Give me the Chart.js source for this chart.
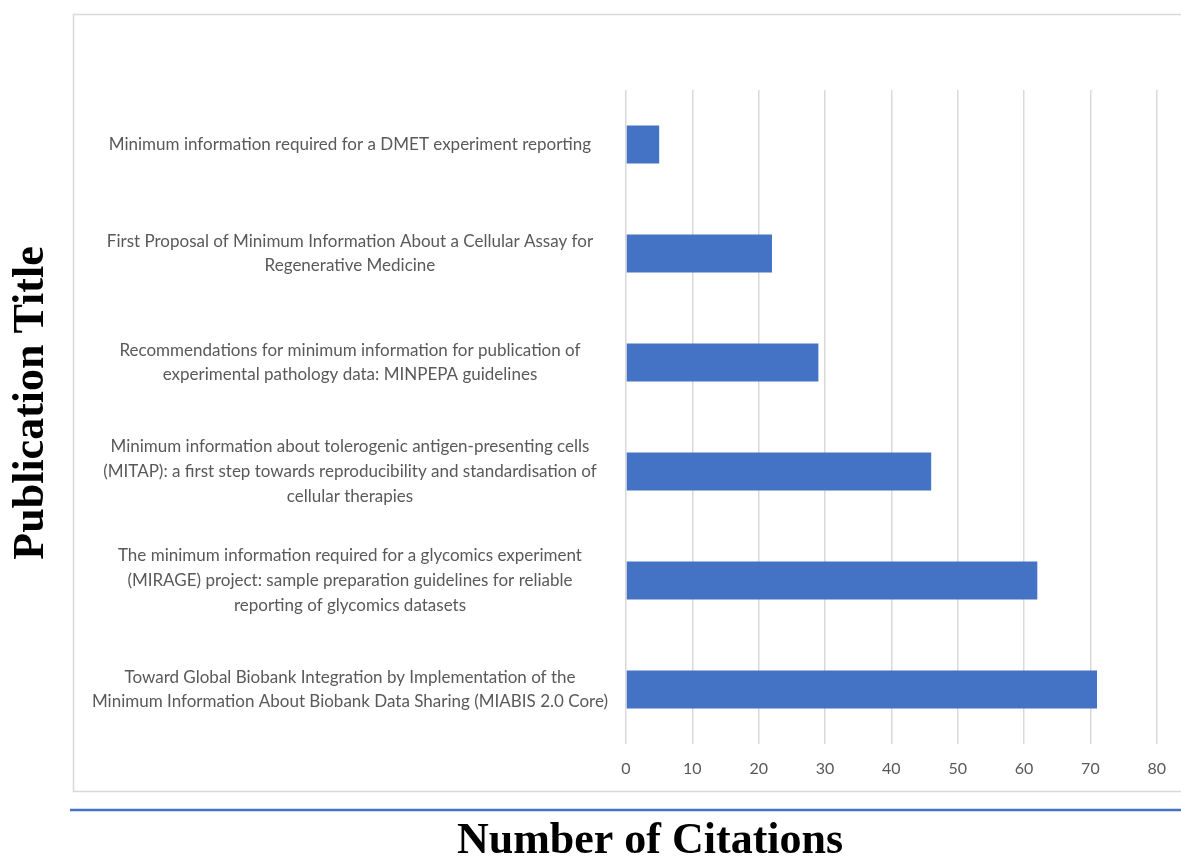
<!DOCTYPE html>
<html>
<head>
<meta charset="utf-8">
<script src="https://cdn.jsdelivr.net/npm/chart.js@4/dist/chart.umd.min.js"></script>
<style>
  html, body { margin: 0; padding: 0; background: #ffffff; overflow: hidden; }
  #wrap { position: relative; width: 1181px; height: 857px; }
</style>
</head>
<body>
<div id="wrap"><canvas id="c" width="1181" height="857"></canvas></div>
<script>
// Publications (one entry per bar, split into the lines shown on the axis)
const publicationTitles = [
  ["Minimum information required for a DMET experiment reporting"],
  ["First Proposal of Minimum Information About a Cellular Assay for", "Regenerative Medicine"],
  ["Recommendations for minimum information for publication of", "experimental pathology data: MINPEPA guidelines"],
  ["Minimum information about tolerogenic antigen-presenting cells", "(MITAP): a first step towards reproducibility and standardisation of", "cellular therapies"],
  ["The minimum information required for a glycomics experiment", "(MIRAGE) project: sample preparation guidelines for reliable", "reporting of glycomics datasets"],
  ["Toward Global Biobank Integration by Implementation of the", "Minimum Information About Biobank Data Sharing (MIABIS 2.0 Core)"]
];
// Citation count for each publication
const citationCounts = [5, 22, 29, 46, 62, 71];
// Value-axis range and tick step
const citationAxisMin = 0;
const citationAxisMax = 80;
const citationTickStep = 10;

const xAxisTitle = "Number of Citations";
const yAxisTitle = "Publication Title";

const LABEL_GREY = "#595959";
const GRID_GREY = "#d9d9d9";
const BAR_BLUE = "#4472c4";

// Frame around the plot, blue rule and the two serif headings
const decorations = {
  id: "decorations",
  beforeDraw(chart) {
    const ctx = chart.ctx;
    ctx.save();
    ctx.fillStyle = "#ffffff";
    ctx.fillRect(0, 0, chart.width, chart.height);
    ctx.strokeStyle = GRID_GREY;
    ctx.lineWidth = 1.5;
    ctx.strokeRect(73.5, 14.5, chart.width + 20, 777);
    ctx.strokeStyle = BAR_BLUE;
    ctx.lineWidth = 2.5;
    ctx.beginPath();
    ctx.moveTo(70, 810);
    ctx.lineTo(chart.width, 810);
    ctx.stroke();
    ctx.restore();
  },
  afterDraw(chart) {
    const ctx = chart.ctx;
    ctx.save();
    ctx.fillStyle = "#000000";
    ctx.font = "bold 44px 'Liberation Serif', 'Times New Roman', serif";
    ctx.textAlign = "center";
    ctx.textBaseline = "alphabetic";
    // bottom heading
    ctx.fillText(xAxisTitle, 650, 853);
    // side heading, reading bottom to top
    ctx.translate(43, 403);
    ctx.rotate(-Math.PI / 2);
    ctx.fillText(yAxisTitle, 0, 0);
    ctx.restore();
  }
};

new Chart(document.getElementById("c"), {
  type: "bar",
  data: {
    labels: publicationTitles,
    datasets: [{
      data: citationCounts,
      backgroundColor: BAR_BLUE,
      borderWidth: 0,
      categoryPercentage: 1.0,
      barPercentage: 0.35
    }]
  },
  options: {
    indexAxis: "y",
    responsive: false,
    animation: false,
    events: [],
    layout: { padding: { left: 0, top: 90, right: 23, bottom: 0 } },
    plugins: {
      legend: { display: false },
      tooltip: { enabled: false },
      title: { display: false }
    },
    scales: {
      x: {
        type: "linear",
        min: citationAxisMin,
        max: citationAxisMax,
        ticks: {
          stepSize: citationTickStep,
          color: LABEL_GREY,
          font: { family: "Lato, 'Liberation Sans', sans-serif", size: 16 },
          padding: 15
        },
        grid: { color: GRID_GREY, lineWidth: 1.5, drawTicks: false },
        border: { display: false },
        afterFit(scale) { scale.height = 113; }
      },
      y: {
        type: "category",
        ticks: {
          autoSkip: false,
          crossAlign: "center",
          padding: 18,
          color: LABEL_GREY,
          font: { family: "Lato, 'Liberation Sans', sans-serif", size: 17, lineHeight: 1.45 }
        },
        grid: { display: false, drawTicks: false },
        border: { display: false },
        afterFit(scale) { scale.width = 626; }
      }
    }
  },
  plugins: [decorations]
});
</script>
</body>
</html>
